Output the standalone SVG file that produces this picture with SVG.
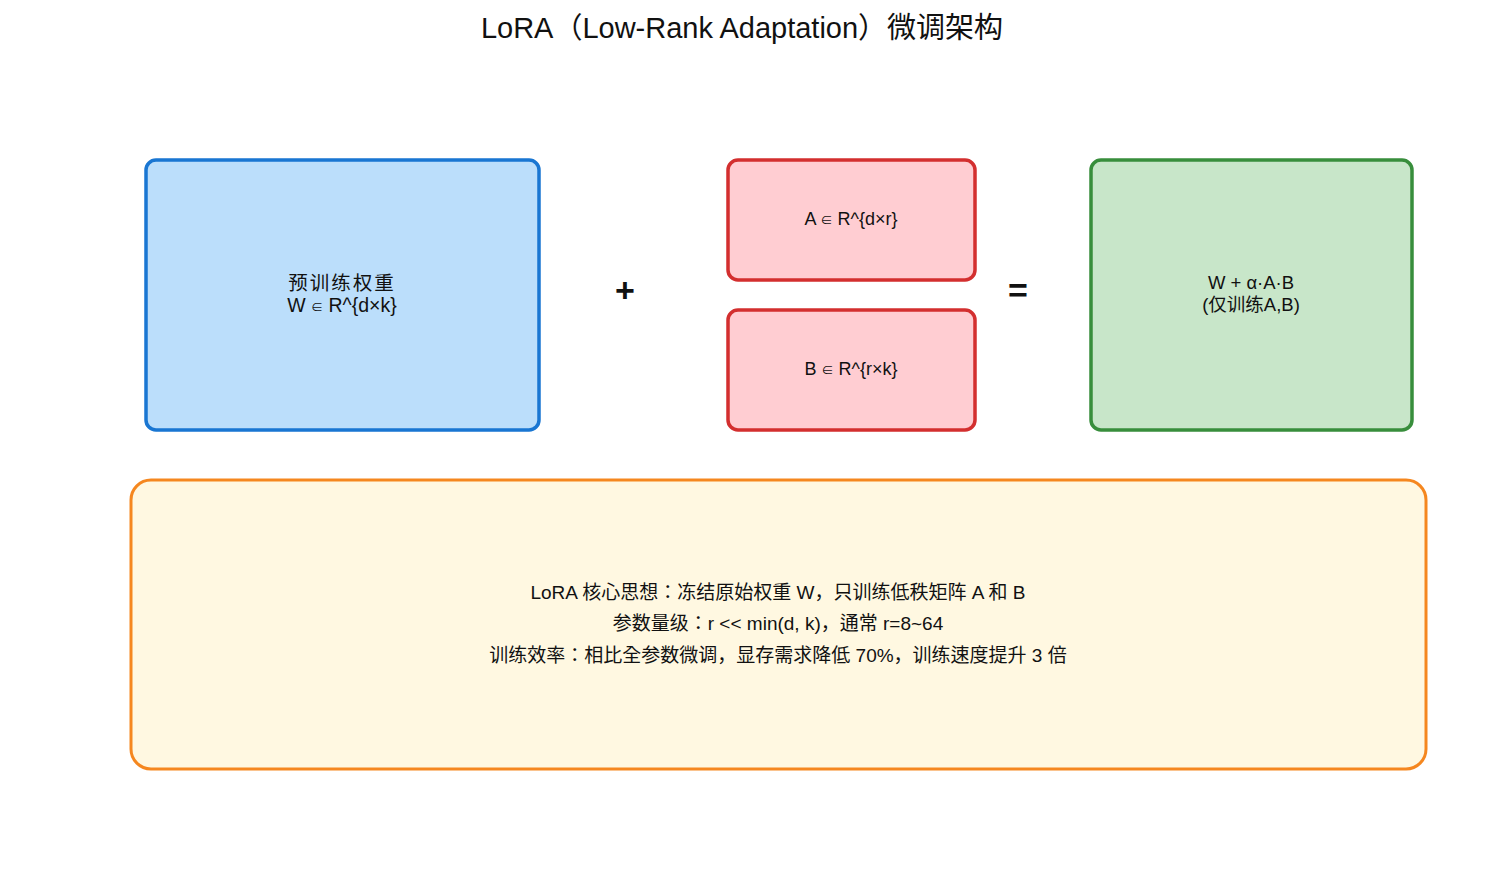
<svg xmlns="http://www.w3.org/2000/svg" width="1485" height="885" viewBox="0 0 1485 885">
<style>
text{font-family:"Liberation Sans","Noto Sans CJK KR",sans-serif;fill:#111;text-anchor:middle;}
.t{font-size:19.5px;}
.s{font-size:18px;}
.g{font-size:18.5px;}
.n{font-size:19px;}
.e{font-size:12px;}
.op{font-size:34px;font-weight:bold;}
.box{stroke-width:3.5;}
</style>
<rect width="1485" height="885" fill="#ffffff"/>
<text x="742" y="38" style="font-size:29px">LoRA（Low-Rank Adaptation）微调架构</text>
<g id="pretrained">
<rect class="box" x="146" y="160" width="393" height="270" rx="10" fill="#BBDEFB" stroke="#1976D2"/>
<text class="t" x="342" y="290" letter-spacing="2">预训练权重</text>
<text class="t" x="342" y="312">W <tspan class="e">∈</tspan> R^{d×k}</text>
</g>
<g id="plus"><text class="op" x="625" y="302">+</text></g>
<g id="matA">
<rect class="box" x="728" y="160" width="247" height="120" rx="10" fill="#FFCDD2" stroke="#D32F2F"/>
<text class="s" x="851" y="225">A <tspan class="e">∈</tspan> R^{d×r}</text>
</g>
<g id="matB">
<rect class="box" x="728" y="310" width="247" height="120" rx="10" fill="#FFCDD2" stroke="#D32F2F"/>
<text class="s" x="851" y="375">B <tspan class="e">∈</tspan> R^{r×k}</text>
</g>
<g id="equals"><text class="op" x="1018" y="302">=</text></g>
<g id="result">
<rect class="box" x="1091" y="160" width="321" height="270" rx="10" fill="#C8E6C9" stroke="#388E3C"/>
<text class="g" x="1251" y="289">W + α·A·B</text>
<text class="g" x="1251" y="311">(仅训练A,B)</text>
</g>
<g id="note">
<rect x="131" y="480" width="1295" height="289" rx="20" fill="#FFF8E1" stroke="#F5871F" stroke-width="3"/>
<text class="n" x="778" y="599">LoRA 核心思想：冻结原始权重 W，只训练低秩矩阵 A 和 B</text>
<text class="n" x="778" y="630">参数量级：r &lt;&lt; min(d, k)，通常 r=8~64</text>
<text class="n" x="778" y="662">训练效率：相比全参数微调，显存需求降低 70%，训练速度提升 3 倍</text>
</g>
<g id="connectors"></g>
</svg>
